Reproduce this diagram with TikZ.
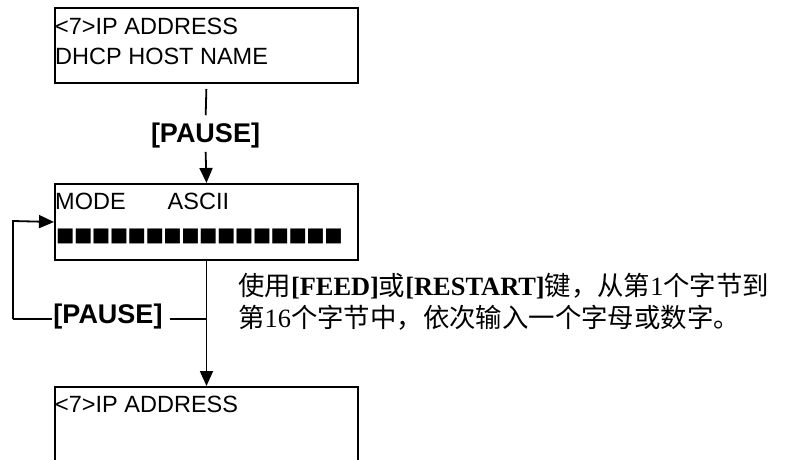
\documentclass[tikz,border=0pt]{standalone}
\usepackage{fontspec}
\setmainfont{Liberation Sans}
\newfontfamily\cjk{Noto Sans CJK SC}
\newfontfamily\tms{Liberation Serif}
\newfontfamily\symfont{DejaVu Sans}
\usetikzlibrary{arrows.meta}
\newcommand\blk{\makebox[17.87pt][l]{■}}
\tikzset{
  box/.style={draw, line width=2pt, minimum width=303pt, anchor=north west, inner sep=0pt},
  lbl/.style={anchor=base west, inner sep=0pt, font=\fontsize{23.5}{28}\selectfont},
  key/.style={anchor=base, inner sep=0pt, font=\bfseries\fontsize{27}{32}\selectfont},
  note/.style={anchor=base west, inner sep=0pt, font=\fontsize{26.4}{30}\selectfont},
  conn/.style={line width=1.8pt},
  arr/.style={conn, -{Triangle[length=15pt,width=13pt]}}
}
\begin{document}
\begin{tikzpicture}[x=1pt,y=-1pt]
\clip (0,0) rectangle (792,460);
\useasboundingbox (0,0) rectangle (792,460);
% boxes
\node[box, minimum height=75pt] (b1) at (54,7) {};
\node[box, minimum height=76pt] (b2) at (54,183) {};
\node[box, minimum height=110pt] (b3) at (54,386) {};
% box texts
\node[lbl] (t1a) at (55,35) {<7>IP ADDRESS};
\node[lbl] (t1b) at (55,65) {DHCP HOST NAME};
\node[lbl] (t2a) at (55,209) {MODE\hspace{42pt}ASCII};
\node[anchor=base west, inner sep=0pt, font=\symfont\fontsize{19.5}{20}\selectfont] (t2b) at (56,241) {\blk\blk\blk\blk\blk\blk\blk\blk\blk\blk\blk\blk\blk\blk\blk\blk};
\node[lbl] (t3) at (55,412) {<7>IP ADDRESS};
% key labels
\node[key] (p1) at (205.5,142) {[PAUSE]};
\node[key] (p2) at (108,323) {[PAUSE]};
% connectors
\draw[conn, shorten <=5pt, shorten >=7pt] (b1.south) -- (p1.north);
\draw[arr, shorten <=4pt] (p1.south) -- (b2.north);
\draw[arr] (b2.south) -- (b3.north);
\coordinate (lp) at (13,319);
\coordinate (la) at (13,221);
\draw[arr] (lp) -- (la) -- (b2.west);
\draw[conn] (lp) -- ([xshift=-1pt]lp -| p2.west);
\draw[conn] ([xshift=7pt]lp -| p2.east) -- (lp -| b2.south);
% note
\node[note] (n1) at (238,295) {{\cjk 使用}{\tms\bfseries [FEED]}{\cjk 或}{\tms\bfseries [RESTART]}{\cjk 键，从第}{\tms 1}{\cjk 个字节到}};
\node[note] (n2) at (238,327) {{\cjk 第}{\tms 16}{\cjk 个字节中，依次输入一个字母或数字。}};
\end{tikzpicture}
\end{document}
